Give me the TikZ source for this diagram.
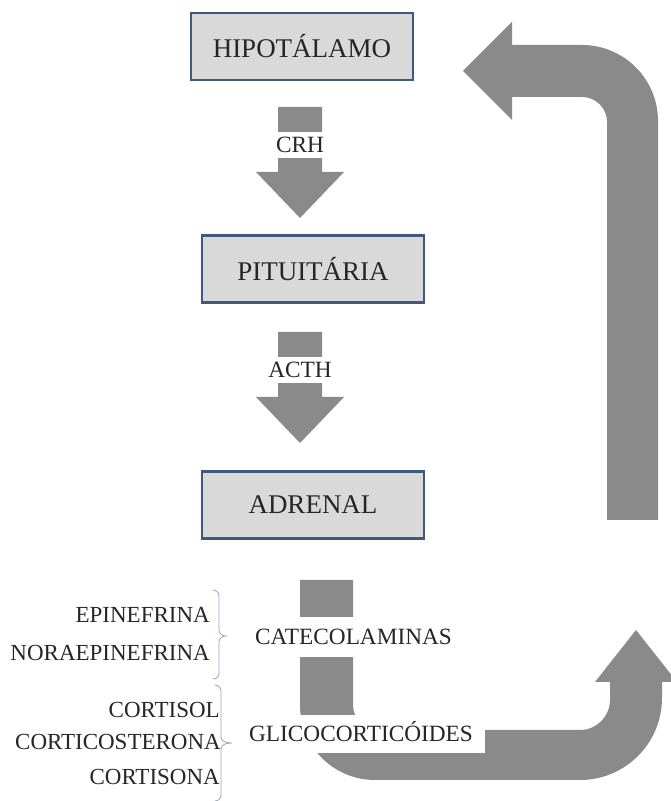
\documentclass[tikz,border=0pt]{standalone}
\usepackage{fontspec}
\setmainfont{Liberation Serif}
\usetikzlibrary{calc}
\definecolor{boxfill}{RGB}{217,217,217}
\definecolor{boxline}{RGB}{62,88,128}
\definecolor{arrowgray}{RGB}{138,138,138}
\definecolor{bracecol}{RGB}{140,165,200}
\tikzset{
    organ/.style={draw=boxline, line width=2.7pt, fill=boxfill, minimum width=222pt,
        minimum height=67pt, text=black!85, font=\fontsize{27}{31}\selectfont},
    hormone/.style={fill=white, text=black!85, font=\fontsize{23.3}{27}\selectfont,
        inner xsep=4pt, inner ysep=5pt, text height=15.5pt, text depth=0.5pt},
    substance/.style={anchor=east, inner sep=0pt, text=black!85, font=\fontsize{23}{27}\selectfont},
    blockarrow/.style={fill=arrowgray},
    curly/.style={draw=bracecol, line width=0.8pt},
}
\begin{document}
\begin{tikzpicture}[x=1pt, y=1pt]
        \useasboundingbox (0,0) rectangle (670,801);

        \node[organ] (hipo) at (302,754.5) {HIPOTÁLAMO};
        \node[organ] (pit) at (313,532) {PITUITÁRIA};
        \node[organ] (adr) at (313,296) {ADRENAL};

        % CRH and ACTH
        \fill[blockarrow] (278,694) -- (322,694) -- (322,629) -- (344,629) -- (300,583) -- (256,629) -- (278,629) -- cycle;
        \fill[blockarrow] (278,469) -- (322,469) -- (322,404) -- (344,404) -- (300,358) -- (256,404) -- (278,404) -- cycle;
        \node[hormone] (crh) at (300,656) {CRH};
        \node[hormone] (acth) at (300,431) {ACTH};

        % feedback
        \fill[blockarrow] (607,281) -- (658,281) -- (658,680) arc[start angle=0, end angle=90, radius=76]
            -- (512,756) -- (512,779) -- (463,730) -- (512,681) -- (512,704) -- (582,704)
            arc[start angle=90, end angle=0, radius=25] -- cycle;

        % output of the adrenal
        \fill[blockarrow] (300,221) -- (300,96) arc[start angle=180, end angle=270, radius=75]
            -- (580,21) arc[start angle=270, end angle=360, radius=82] -- (662,119) -- (677,119)
            -- (636,171) -- (595,119) -- (610,119) -- (610,101) arc[start angle=0, end angle=-90, radius=30]
            -- (378,71) arc[start angle=270, end angle=180, radius=25] -- (353,221) -- cycle;
        \node[hormone, minimum height=40pt] (cat) at (353.5,164) {CATECOLAMINAS};
        \node[hormone, minimum height=38pt, inner xsep=12pt] (glic) at (361,67) {GLICOCORTICÓIDES};

        \node[substance] (epi) at (210,186) {EPINEFRINA};
        \node[substance] (nora) at (210,148) {NORAEPINEFRINA};
        \node[substance] (cortisol) at (220,91) {CORTISOL};
        \node[substance] (cortico) at (221,59) {CORTICOSTERONA};
        \node[substance] (cortisona) at (220,24) {CORTISONA};

        \draw[curly] (213,211) to[out=0, in=90] (219,205) -- (219,171) to[out=-90, in=180] (226,165)
            to[out=180, in=90] (219,159) -- (219,128) to[out=-90, in=0] (213,122);
        \draw[curly] (215,116) to[out=0, in=90] (221,110) -- (221,64) to[out=-90, in=180] (232,58)
            to[out=180, in=90] (221,52) -- (221,6) to[out=-90, in=0] (215,0);
    \end{tikzpicture}
\end{document}
